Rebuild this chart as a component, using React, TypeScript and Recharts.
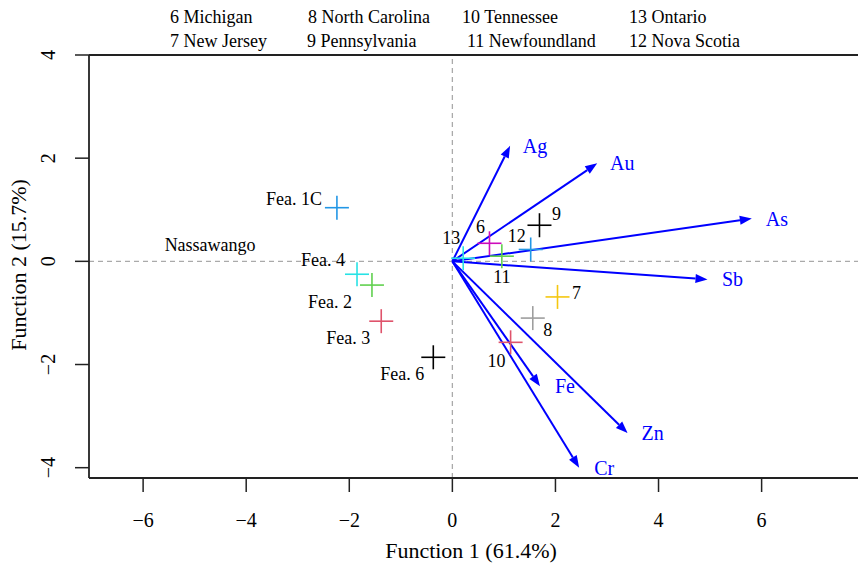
import { ReferenceLine, Scatter, ScatterChart, XAxis, YAxis } from 'recharts'

const xTicks = [-6, -4, -2, 0, 2, 4, 6]
const yTicks = [-4, -2, 0, 2, 4]

// sample scores
const pointNames = ['Fea. 1C', 'Fea. 4', 'Fea. 2', 'Fea. 3', 'Fea. 6', '13', '6', '11', '12', '9', '7', '8', '10']
const pointX = [-2.24, -1.85, -1.56, -1.38, -0.37, 0.21, 0.72, 0.96, 1.52, 1.69, 2.04, 1.56, 1.13]
const pointY = [1.04, -0.25, -0.46, -1.16, -1.86, 0.06, 0.35, 0.1, 0.23, 0.7, -0.69, -1.1, -1.57]

// group label without marker
const groupNames = ['Nassawango']
const groupX = [-4.7]
const groupY = [0.31]

// element loadings (arrows)
const elementNames = ['Ag', 'Au', 'As', 'Sb', 'Fe', 'Zn', 'Cr']
const loadingX = [1.12, 2.81, 5.81, 4.95, 1.7, 3.4, 2.46]
const loadingY = [2.24, 1.9, 0.83, -0.35, -2.42, -3.33, -4.0]

const legendRow1 = ['6 Michigan', '8 North Carolina', '10 Tennessee', '13 Ontario']
const legendRow2 = ['7 New Jersey', '9 Pennsylvania', '11 Newfoundland', '12 Nova Scotia']

const FONT = "'Liberation Serif', 'Times New Roman', serif"
const ARROW = '#0000FF'

const pointColors: Record<string, string> = {
  'Fea. 1C': '#2297E6', 'Fea. 4': '#28E2E5', 'Fea. 2': '#61D04F', 'Fea. 3': '#DF536B', 'Fea. 6': '#000000',
  '13': '#28E2E5', '6': '#CD0BBC', '11': '#61D04F', '12': '#2297E6', '9': '#000000',
  '7': '#F5C710', '8': '#9E9E9E', '10': '#DF536B',
}

// label placement relative to marker (px)
const labelPos: Record<string, { dx: number; dy: number; anchor: 'start' | 'middle' | 'end' }> = {
  'Fea. 1C': { dx: -15, dy: -9, anchor: 'end' },
  'Fea. 4': { dx: -12, dy: -14, anchor: 'end' },
  'Fea. 2': { dx: -20, dy: 17, anchor: 'end' },
  'Fea. 3': { dx: -11, dy: 17, anchor: 'end' },
  'Fea. 6': { dx: -9, dy: 17, anchor: 'end' },
  '13': { dx: -12, dy: -20, anchor: 'middle' },
  '6': { dx: -9, dy: -16, anchor: 'middle' },
  '11': { dx: 0, dy: 21, anchor: 'middle' },
  '12': { dx: -14, dy: -13, anchor: 'middle' },
  '9': { dx: 17, dy: -11, anchor: 'middle' },
  '7': { dx: 19, dy: -4, anchor: 'middle' },
  '8': { dx: 15, dy: 12, anchor: 'middle' },
  '10': { dx: -14, dy: 19, anchor: 'middle' },
}

const points = pointNames.map((name, i) => ({ name, x: pointX[i], y: pointY[i] }))
const groups = groupNames.map((name, i) => ({ name, x: groupX[i], y: groupY[i] }))

const minus = (v: number) => String(v).replace('-', '\u2212')

const PlusShape = (props: any) => {
  const { cx, cy, payload } = props
  const c = pointColors[payload.name]
  const p = labelPos[payload.name]
  return (
    <g>
      <line x1={cx - 12} x2={cx + 12} y1={cy} y2={cy} stroke={c} strokeWidth={1.6} />
      <line x1={cx} x2={cx} y1={cy - 12} y2={cy + 12} stroke={c} strokeWidth={1.6} />
      <text x={cx + p.dx} y={cy + p.dy} textAnchor={p.anchor} dominantBaseline="central" fontSize={18} fontFamily={FONT} fill="#000">
        {payload.name}
      </text>
    </g>
  )
}

const GroupLabel = (props: any) => (
  <text x={props.cx} y={props.cy} textAnchor="middle" dominantBaseline="central" fontSize={18} fontFamily={FONT} fill="#000">
    {props.payload.name}
  </text>
)

const arrowShape = (label: string) => (p: any) => {
  const x1 = Number(p.x1), y1 = Number(p.y1), x2 = Number(p.x2), y2 = Number(p.y2)
  const ang = Math.atan2(y2 - y1, x2 - x1)
  const L = 12, W = 4.5
  const bx = x2 - L * Math.cos(ang)
  const by = y2 - L * Math.sin(ang)
  const pts = `${x2},${y2} ${bx - W * Math.sin(ang)},${by + W * Math.cos(ang)} ${bx + W * Math.sin(ang)},${by - W * Math.cos(ang)}`
  return (
    <g>
      <line x1={x1} y1={y1} x2={bx} y2={by} stroke={ARROW} strokeWidth={2} />
      <polygon points={pts} fill={ARROW} />
      <text x={x2 + 25} y={y2} textAnchor="middle" dominantBaseline="central" fontSize={20} fontFamily={FONT} fill={ARROW}>
        {label}
      </text>
    </g>
  )
}

const XTick = (props: any) => (
  <text x={props.x} y={props.y} textAnchor="middle" dominantBaseline="central" fontSize={20} fontFamily={FONT} fill="#000">
    {minus(props.payload.value)}
  </text>
)

const YTick = (props: any) => (
  <text x={props.x} y={props.y} transform={`rotate(-90 ${props.x} ${props.y})`} textAnchor="middle" dominantBaseline="central" fontSize={20} fontFamily={FONT} fill="#000">
    {minus(props.payload.value)}
  </text>
)

export default function App() {
  const legendX1 = [170, 308, 462, 629]
  const legendX2 = [170, 307, 467, 629]
  return (
    <div style={{ position: 'absolute', left: 0, top: 0, width: 858, height: 563, background: '#fff' }}>
      <ScatterChart width={858} height={563} margin={{ top: 55, right: 0, bottom: 0, left: 0 }}>
        <XAxis
          type="number"
          dataKey="x"
          domain={[-7.05, 7.87]}
          ticks={xTicks}
          allowDataOverflow
          height={85}
          tickSize={14}
          tickMargin={28}
          tick={<XTick />}
          axisLine={{ stroke: '#222', strokeWidth: 1.8 }}
          tickLine={{ stroke: '#222', strokeWidth: 1.5 }}
        />
        <YAxis
          type="number"
          dataKey="y"
          domain={[-4.2, 4]}
          ticks={yTicks}
          allowDataOverflow
          width={89}
          tickSize={14}
          tickMargin={27}
          tick={<YTick />}
          axisLine={{ stroke: '#222', strokeWidth: 1.8 }}
          tickLine={{ stroke: '#222', strokeWidth: 1.5 }}
        />
        <ReferenceLine y={4} stroke="#222" strokeWidth={1.8} />
        <ReferenceLine x={0} stroke="#aaa" strokeWidth={1.3} strokeDasharray="5 4" />
        <ReferenceLine y={0} stroke="#aaa" strokeWidth={1.3} strokeDasharray="5 4" />
        <Scatter data={groups} shape={<GroupLabel />} isAnimationActive={false} />
        <Scatter data={points} shape={<PlusShape />} isAnimationActive={false} />
        {elementNames.map((name, i) => (
          <ReferenceLine
            key={name}
            segment={[{ x: 0, y: 0 }, { x: loadingX[i], y: loadingY[i] }]}
            ifOverflow="visible"
            shape={arrowShape(name)}
          />
        ))}
      </ScatterChart>
      <svg width={858} height={563} style={{ position: 'absolute', left: 0, top: 0, pointerEvents: 'none' }}>
        <g fontFamily={FONT} fontSize={18} fill="#000">
          {legendRow1.map((t, i) => (
            <text key={t} x={legendX1[i]} y={17} dominantBaseline="central">{t}</text>
          ))}
          {legendRow2.map((t, i) => (
            <text key={t} x={legendX2[i]} y={41} dominantBaseline="central">{t}</text>
          ))}
        </g>
        <text x={471} y={550} textAnchor="middle" dominantBaseline="central" fontFamily={FONT} fontSize={22} fill="#000">
          Function 1 (61.4%)
        </text>
        <text x={18} y={265} transform="rotate(-90 18 265)" textAnchor="middle" dominantBaseline="central" fontFamily={FONT} fontSize={22} fill="#000">
          Function 2 (15.7%)
        </text>
      </svg>
    </div>
  )
}
